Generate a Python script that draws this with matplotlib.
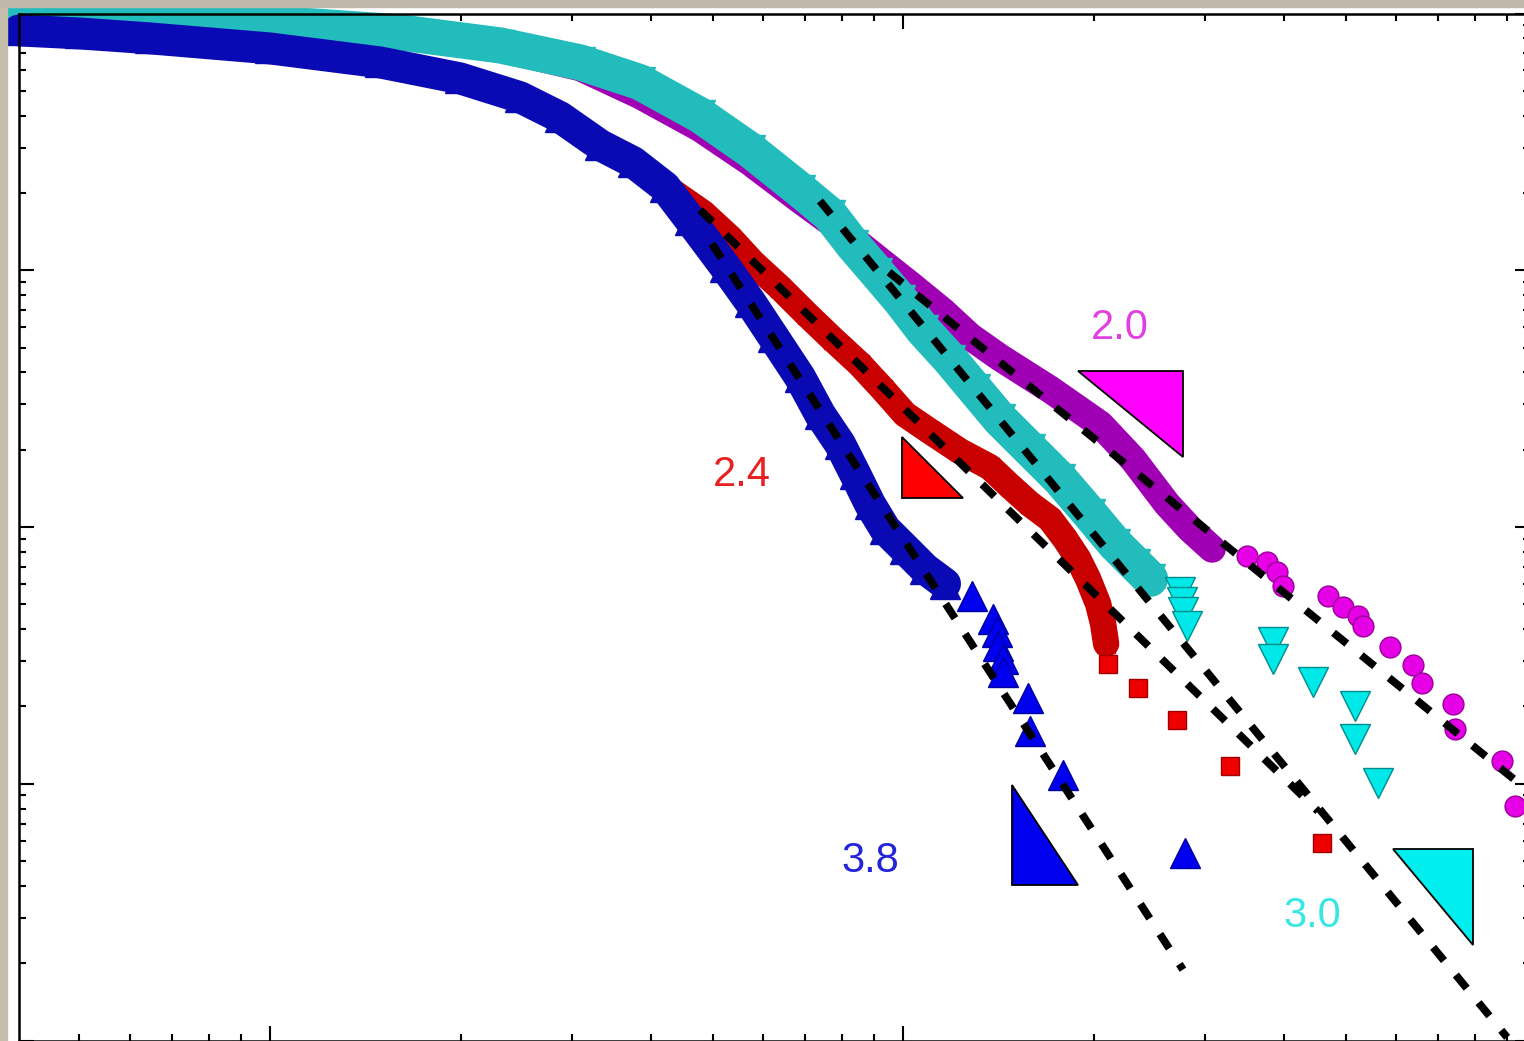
import matplotlib
matplotlib.use("Agg")
import matplotlib.pyplot as plt
from matplotlib.patches import Rectangle

plt.rcParams['font.family'] = ['Liberation Sans', 'DejaVu Sans']

# magenta circles, exponent 2.0
mag_band_x = [4.01, 5.39, 7.75, 11.15, 16.05, 23.09, 30.88, 38.41, 47.77, 57.33, 68.76, 76.67,
              85.52, 93.66, 102.6, 115.7, 127.6, 142.3, 170.7, 204.8, 230.8, 261.3, 284.1, 307.7]
mag_band_y = [0.973, 0.923, 0.890, 0.882, 0.821, 0.731, 0.617, 0.480, 0.3575, 0.2638, 0.1878, 0.1543,
              0.1256, 0.1050, 0.0879, 0.0690, 0.0552, 0.0457, 0.03435, 0.02512, 0.01836, 0.01228, 0.00982, 0.00822]
mag_tail_x = [349.5, 375.8, 389.7, 398.3, 469.4, 495.7, 523.5, 533.1, 588.1, 639.3, 660.6, 739.5, 744.7, 883.6, 926.3]
mag_tail_y = [0.00772, 0.00731, 0.00669, 0.00590, 0.00540, 0.00489, 0.00451, 0.00413, 0.00342, 0.00289,
              0.00246, 0.00205, 0.00164, 0.001223, 0.000818]

# cyan down triangles, exponent 3.0
cyan_band_x = [4.01, 5.39, 7.75, 11.15, 16.05, 23.09, 30.88, 38.41, 47.77, 57.33, 68.76, 76.67, 83.37,
               90.98, 98.9, 107.5, 118.7, 129.9, 142.3, 158.7, 177.0, 197.4, 216.2, 232.6, 245.6]
cyan_band_y = [0.965, 0.956, 0.939, 0.898, 0.844, 0.751, 0.645, 0.540, 0.4017, 0.2938, 0.2054, 0.1642, 0.1256,
               0.0978, 0.0768, 0.0587, 0.0449, 0.03435, 0.02627, 0.02009, 0.01536, 0.01123, 0.00859, 0.00718, 0.00628]
cyan_tail_x = [273.9, 275.9, 276.8, 281.0, 384.1, 384.1, 444.3, 517.7, 517.7, 562.8]
cyan_tail_y = [0.00559, 0.00511, 0.00468, 0.00413, 0.00358, 0.00307, 0.00250, 0.00200, 0.00150, 0.001005]

# red squares, exponent 2.4
red_band_x = [33.21, 38.41, 42.85, 48.31, 53.30, 57.94, 63.93, 70.51, 77.53, 85.52, 92.98, 100.7, 110.3,
              123.0, 137.2, 147.6, 158.7, 170.7, 180.3, 189.1, 196.0, 203.3, 207.0, 209.3]
red_band_y = [0.3072, 0.2500, 0.2054, 0.1672, 0.1337, 0.1069, 0.0855, 0.0672, 0.0537, 0.04295, 0.03435, 0.02747,
              0.02359, 0.01973, 0.01710, 0.01442, 0.01228, 0.01074, 0.00898, 0.00751, 0.00628, 0.00502, 0.00420, 0.00351]
red_tail_x = [210.8, 235.0, 270.9, 328.6, 459.1]
red_tail_y = [0.00294, 0.00235, 0.001764, 0.001169, 0.000587]

# blue up triangles, exponent 3.8
blue_band_x = [4.01, 5.01, 6.46, 10.0, 14.92, 19.96, 24.83, 28.72, 33.21, 37.45, 42.07, 46.08, 52.34,
               57.33, 62.33, 68.76, 73.93, 79.53, 84.03, 88.67, 93.66, 100.7, 108.3, 116.5]
blue_band_y = [0.859, 0.836, 0.800, 0.731, 0.645, 0.559, 0.472, 0.3946, 0.3072, 0.2638, 0.2110, 0.1571, 0.1032,
               0.0754, 0.0552, 0.03824, 0.02747, 0.02101, 0.01606, 0.01228, 0.00982, 0.00822, 0.00687, 0.00601]
blue_tail_x = [128.5, 138.8, 140.8, 141.3, 143.9, 143.9, 157.6, 158.7, 178.9, 278.9]
blue_tail_y = [0.00540, 0.00439, 0.00391, 0.00345, 0.00307, 0.00273, 0.00215, 0.00160, 0.00108, 0.000537]

# power-law fits (end points)
fit_mag_x, fit_mag_y = [95.0, 978.0], [0.0983, 9.27e-4]
fit_cyan_x, fit_cyan_y = [73.9, 900.0], [0.1862, 1.028e-4]
fit_red_x, fit_red_y = [47.8, 452.4], [0.1718, 7.82e-4]
fit_blue_x, fit_blue_y = [49.9, 276.8], [0.1268, 1.888e-4]

# slope triangles
tri_mag_x, tri_mag_y = [189.1, 276.8, 276.8], [0.04035, 0.04035, 0.0187]
tri_red_x, tri_red_y = [99.6, 99.6, 124.4], [0.02236, 0.01296, 0.01296]
tri_blue_x, tri_blue_y = [148.7, 148.7, 189.1], [9.87e-4, 4.03e-4, 4.03e-4]
tri_cyan_x, tri_cyan_y = [594.6, 795.3, 795.3], [5.565e-4, 5.565e-4, 2.36e-4]

labels = ["2.0", "2.4", "3.8", "3.0"]
label_x = [220.2, 55.7, 88.7, 442.7]
label_y = [0.0598, 0.0159, 5.0e-4, 3.06e-4]
label_colors = ["#e040e0", "#e82020", "#2424d8", "#38e6e6"]

fig = plt.figure(figsize=(15.24, 10.41), dpi=100)
ax = fig.add_axes([19 / 1524, 0.5 / 1041, 1511 / 1524, 1027 / 1041])
ax.set_xscale('log')
ax.set_yscale('log')
ax.set_xlim(4.013, 978)
ax.set_ylim(1e-4, 1)

series = [
    (mag_band_x, mag_band_y, mag_tail_x, mag_tail_y, 'o', 15, 20, '#a000b4', '#e600e6', '#9a009a'),
    (cyan_band_x, cyan_band_y, cyan_tail_x, cyan_tail_y, 'v', 21, 26, '#22bcbc', '#00e8e8', '#008c8c'),
    (red_band_x, red_band_y, red_tail_x, red_tail_y, 's', 13.5, 19, '#c80000', '#ee0000', '#a00000'),
    (blue_band_x, blue_band_y, blue_tail_x, blue_tail_y, '^', 21, 23, '#0a0ab4', '#0000ee', '#0000a0'),
]
for bx, by, tx, ty, mk, ms, lw, band_c, face_c, edge_c in series:
    ax.plot(bx, by, '-', color=band_c, lw=lw, solid_capstyle='round', solid_joinstyle='round',
            clip_on=False)
    ax.plot(bx, by, mk, ms=ms, mfc=band_c, mec=band_c, mew=1, clip_on=False)
    ax.plot(tx, ty, mk, ms=ms, mfc=face_c, mec=edge_c, mew=1, clip_on=False)

for fx, fy in [(fit_mag_x, fit_mag_y), (fit_cyan_x, fit_cyan_y), (fit_red_x, fit_red_y), (fit_blue_x, fit_blue_y)]:
    ax.plot(fx, fy, color='black', lw=5.6, dashes=(2.2, 2.4), dash_capstyle='butt')

for tx, ty, c in [(tri_mag_x, tri_mag_y, '#ff00ff'), (tri_red_x, tri_red_y, '#ff0000'),
                  (tri_blue_x, tri_blue_y, '#0000ee'), (tri_cyan_x, tri_cyan_y, '#00eeee')]:
    ax.fill(tx, ty, facecolor=c, edgecolor='black', lw=1.3)

for s, x, y, c in zip(labels, label_x, label_y, label_colors):
    ax.text(x, y, s, color=c, fontsize=30, ha='center', va='center')

ax.tick_params(which='both', direction='in', top=True, right=True, labelleft=False, labelbottom=False,
               width=1.5)
ax.tick_params(which='major', length=11)
ax.tick_params(which='minor', length=5)
for sp in ax.spines.values():
    sp.set_linewidth(1.8)

# photo frame around the slide
fig.add_artist(Rectangle((0, 0), 7 / 1524, 1, transform=fig.transFigure, color='#c4bda9', zorder=10))
fig.add_artist(Rectangle((0, 1 - 7 / 1041), 1, 7 / 1041, transform=fig.transFigure, color='#c0b9ab', zorder=10))

fig.savefig("out.png", dpi=100)
